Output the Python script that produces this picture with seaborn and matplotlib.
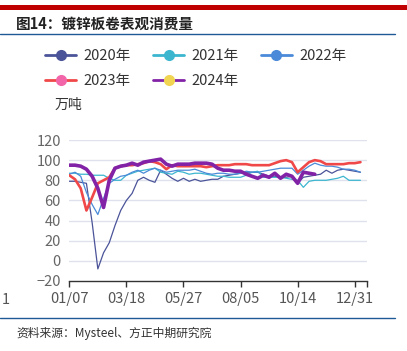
import matplotlib
matplotlib.use("Agg")
import matplotlib.pyplot as plt
import numpy as np
import pandas as pd
import seaborn as sns
from matplotlib.lines import Line2D

# 周度数据（万吨），横轴为周序号
tick_pos = [0, 10, 20, 30, 40, 50]
tick_labels = ["01/07", "03/18", "05/27", "08/05", "10/14", "12/31"]

y2020 = [79, 79, 78, 77, 38, -8, 8, 18, 35, 50, 60, 67, 80, 83, 80, 78, 90, 86, 82, 79,
         82, 79, 81, 79, 80, 81, 81, 84, 85, 86, 87, 88, 88, 88, 86, 84, 84, 83, 83, 84,
         77, 83, 84, 85, 86, 90, 87, 90, 91, 90, 89, 88]
y2021 = [87, 87, 86, 86, 85, 85, 85, 82, 80, 80, 85, 87, 89, 90, 91, 92, 88, 87, 86, 89,
         88, 86, 87, 87, 86, 85, 84, 84, 83, 83, 83, 85, 88, 89, 83, 83, 83, 83, 82, 81,
         80, 73, 79, 80, 80, 80, 81, 82, 84, 80, 80, 80]
y2022 = [86, 88, 84, 68, 56, 46, 62, 77, 81, 84, 85, 88, 90, 87, 90, 92, 90, 88, 89, 90,
         90, 90, 91, 89, 87, 86, 87, 87, 86, 86, 87, 89, 88, 88, 89, 90, 91, 92, 92, 92,
         86, 90, 94, 97, 95, 94, 94, 93, 91, 91, 90, 88]
y2023 = [85, 81, 72, 50, 63, 77, 80, 83, 92, 94, 95, 95, 96, 97, 99, 98, 96, 91, 95, 94,
         94, 94, 94, 94, 93, 94, 95, 95, 95, 96, 96, 96, 95, 95, 95, 95, 97, 99, 100, 98,
         88, 93, 98, 100, 99, 96, 96, 96, 96, 97, 97, 98]
y2024 = [95, 95, 94, 91, 84, 72, 53, 80, 92, 94, 95, 97, 95, 98, 99, 100, 101, 96, 94, 96,
         96, 96, 97, 97, 97, 96, 92, 90, 90, 89, 89, 86, 84, 82, 85, 83, 87, 82, 86, 84,
         77, 88, 87, 86]

series = [
    ("2020年", y2020, "#4b5499", "#4b5499", 0.9),
    ("2021年", y2021, "#3cb6cf", "#3cb6cf", 0.9),
    ("2022年", y2022, "#4a8ad8", "#4a8ad8", 0.9),
    ("2023年", y2023, "#f04848", "#f265a8", 1.9),
    ("2024年", y2024, "#8222a6", "#f0d452", 2.6),
]

sns.set_style("white")
plt.rcParams['font.family'] = ['Noto Sans CJK SC', 'DejaVu Sans']
plt.rcParams['axes.unicode_minus'] = False

fig = plt.figure(figsize=(4.07, 3.51), dpi=100)
ax = fig.add_axes([69.3 / 407, 70 / 351, 298 / 407, 141 / 351])

for name, vals, lc, mc, lw in series:
    df = pd.DataFrame({"week": np.arange(len(vals)), "value": vals})
    sns.lineplot(data=df, x="week", y="value", color=lc, linewidth=lw, ax=ax)

ax.set_xlim(0, 52.2)
ax.set_ylim(-20, 120)
ax.set_yticks(range(-20, 121, 20))
ax.set_yticklabels(["−20" if v < 0 else str(v) for v in range(-20, 121, 20)])
ax.set_xticks(tick_pos + [52.2])
ax.set_xticklabels(tick_labels + [""])
ax.set_xlabel("")
ax.set_ylabel("")
for v in range(0, 121, 20):
    ax.axhline(v, color="#dfe1ec", linewidth=1, zorder=0)
for s in ["top", "right", "left"]:
    ax.spines[s].set_visible(False)
ax.spines["bottom"].set_color("#333333")
ax.spines["bottom"].set_linewidth(1)
ax.tick_params(axis="x", length=4, width=1, color="#333333", labelcolor="#555555",
               labelsize=10.5, pad=4, direction="out", bottom=True)
ax.tick_params(axis="y", length=0, labelcolor="#666666", labelsize=10.5, pad=6)

# 图例（按列填充，调整顺序使其按行排列）
handles = [Line2D([0], [0], color=lc, linewidth=2, marker="o", markersize=7,
                  markerfacecolor=mc, markeredgecolor=mc) for _, _, lc, mc, _ in series]
labels = [s[0] for s in series]
order = [0, 3, 1, 4, 2]
fig.legend([handles[i] for i in order], [labels[i] for i in order], loc="upper left",
           bbox_to_anchor=(38 / 407, 1 - 42 / 351), ncol=3, frameon=False, fontsize=10.5,
           handlelength=2.1, handletextpad=0.55, columnspacing=1.5, labelspacing=0.75,
           labelcolor="#333333", borderpad=0)

# 标题与装饰
fig.add_artist(plt.Rectangle((0, 1 - 10 / 351), 1, 5 / 351, transform=fig.transFigure,
                             color="#c00000", linewidth=0))
fig.text(16 / 407, 1 - 24 / 351, "图14：镀锌板卷表观消费量", fontsize=10.5, color="#222222",
         va="center", ha="left", fontweight="bold")
fig.add_artist(Line2D([0, 395 / 407], [1 - 34 / 351, 1 - 34 / 351], transform=fig.transFigure,
                      color="#1f5a96", linewidth=1))
fig.add_artist(Line2D([0, 395 / 407], [1 - 318 / 351, 1 - 318 / 351], transform=fig.transFigure,
                      color="#1f5a96", linewidth=1))
fig.text(55 / 407, 1 - 105 / 351, "万吨", fontsize=10, color="#333333", va="center", ha="left")
fig.text(2 / 407, 1 - 300 / 351, "1", fontsize=10.5, color="#555555", va="center", ha="left")
fig.text(16 / 407, 1 - 333 / 351, "资料来源：Mysteel、方正中期研究院", fontsize=8.5,
         color="#333333", va="center", ha="left", style="italic")

fig.savefig("out.png", dpi=100)
